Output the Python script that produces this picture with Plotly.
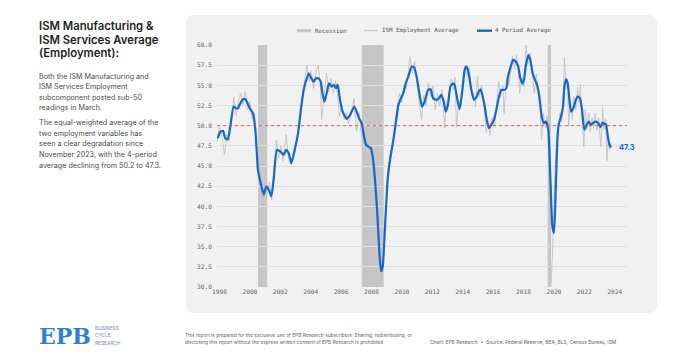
import plotly.graph_objects as go

# ------------------------------------------------------------------ data
avg_dates = [
    1998.29, 1998.47, 1998.64, 1998.79, 1998.95, 1999.12, 1999.34, 1999.50, 1999.63, 1999.78,
    1999.96, 2000.11, 2000.26, 2000.40, 2000.61, 2000.77, 2000.94, 2001.12, 2001.32, 2001.49,
    2001.65, 2001.82, 2001.97, 2002.19, 2002.41, 2002.63, 2002.79, 2002.96, 2003.14, 2003.36,
    2003.58, 2003.79, 2003.95, 2004.12, 2004.28, 2004.45, 2004.60, 2004.76, 2004.91, 2005.07,
    2005.18, 2005.31, 2005.46, 2005.61, 2005.79, 2005.94, 2006.08, 2006.19, 2006.34, 2006.51,
    2006.78, 2007.00, 2007.28, 2007.43, 2007.59, 2007.76, 2007.92, 2008.05, 2008.20, 2008.36,
    2008.49, 2008.64, 2008.79, 2008.93, 2009.04, 2009.15, 2009.30, 2009.47, 2009.63, 2009.85,
    2010.07, 2010.18, 2010.35, 2010.50, 2010.66, 2010.83, 2011.05, 2011.21, 2011.38, 2011.56,
    2011.73, 2011.91, 2012.13, 2012.30, 2012.46, 2012.68, 2012.85, 2013.00, 2013.16, 2013.29,
    2013.44, 2013.60, 2013.77, 2013.88, 2014.06, 2014.21, 2014.39, 2014.54, 2014.67, 2014.80,
    2014.98, 2015.15, 2015.31, 2015.46, 2015.59, 2015.75, 2015.86, 2016.01, 2016.14, 2016.29,
    2016.47, 2016.62, 2016.80, 2016.95, 2017.13, 2017.28, 2017.39, 2017.57, 2017.72, 2017.90,
    2018.05, 2018.20, 2018.33, 2018.45, 2018.57, 2018.73, 2018.86, 2019.01, 2019.17, 2019.30,
    2019.45, 2019.61, 2019.74, 2019.89, 2020.04, 2020.18, 2020.31, 2020.42, 2020.53, 2020.64,
    2020.72, 2020.88, 2021.01, 2021.10, 2021.21, 2021.32, 2021.43, 2021.54, 2021.69, 2021.82,
    2021.97, 2022.13, 2022.26, 2022.41, 2022.57, 2022.70, 2022.85, 2023.03, 2023.18, 2023.33,
    2023.47, 2023.62, 2023.75, 2023.83, 2023.92, 2024.00, 2024.08, 2024.17,
]
avg_values = [
    48.45, 49.27, 49.36, 48.45, 48.30, 49.90, 52.37, 52.16, 52.16, 52.78,
    53.28, 53.28, 52.78, 52.16, 51.54, 49.48, 44.53, 42.88, 41.44, 42.47,
    42.06, 41.23, 43.29, 47.00, 46.80, 46.39, 47.00, 46.60, 45.35, 47.00,
    49.07, 52.37, 54.43, 55.67, 56.50, 55.87, 55.46, 55.87, 55.87, 55.46,
    54.02, 52.99, 54.02, 55.26, 54.84, 55.05, 54.64, 55.05, 53.19, 51.75,
    50.84, 51.34, 52.37, 51.75, 50.92, 50.31, 48.65, 47.62, 47.42, 47.21,
    46.18, 43.29, 39.17, 34.22, 31.95, 32.57, 37.52, 43.29, 45.77, 48.24,
    51.13, 52.57, 53.40, 54.02, 55.26, 56.08, 57.32, 57.24, 56.08, 54.02,
    52.37, 52.99, 54.43, 54.51, 53.40, 53.19, 53.40, 53.81, 52.99, 51.75,
    52.57, 54.84, 55.26, 55.05, 53.19, 52.04, 54.43, 56.91, 57.32, 56.50,
    54.43, 53.19, 53.52, 54.22, 54.51, 53.40, 52.37, 50.51, 49.69, 50.10,
    50.72, 51.96, 53.61, 54.43, 54.43, 54.64, 56.08, 57.32, 58.14, 57.94,
    57.40, 55.90, 55.20, 55.80, 57.52, 58.76, 58.14, 56.50, 55.67, 55.05,
    53.61, 51.13, 50.31, 50.51, 49.48, 43.29, 37.52, 36.69, 42.06, 48.24,
    50.10, 51.13, 52.37, 54.84, 55.75, 55.26, 53.19, 51.75, 52.16, 52.99,
    53.61, 53.40, 51.96, 49.48, 50.10, 50.51, 50.10, 50.39, 50.51, 50.31,
    49.81, 50.39, 50.20, 50.20, 49.20, 48.20, 47.60, 47.30,
]

raw_dates = [
    1998.25, 1998.40, 1998.55, 1998.73, 1998.90, 1999.05, 1999.20, 1999.35, 1999.50, 1999.65,
    1999.80, 1999.95, 2000.10, 2000.25, 2000.40, 2000.55, 2000.70, 2000.85, 2001.00, 2001.12,
    2001.25, 2001.40, 2001.55, 2001.70, 2001.85, 2002.00, 2002.15, 2002.30, 2002.45, 2002.60,
    2002.80, 2002.95, 2003.10, 2003.25, 2003.40, 2003.55, 2003.70, 2003.85, 2004.00, 2004.15,
    2004.30, 2004.45, 2004.60, 2004.75, 2004.90, 2005.05, 2005.13, 2005.30, 2005.45, 2005.60,
    2005.75, 2005.90, 2006.05, 2006.20, 2006.30, 2006.45, 2006.60, 2006.75, 2006.90, 2007.10,
    2007.25, 2007.43, 2007.60, 2007.75, 2007.87, 2008.00, 2008.15, 2008.30, 2008.45, 2008.60,
    2008.75, 2008.90, 2009.00, 2009.10, 2009.20, 2009.35, 2009.50, 2009.65, 2009.80, 2009.95,
    2010.10, 2010.25, 2010.40, 2010.55, 2010.70, 2010.85, 2010.94, 2011.10, 2011.25, 2011.40,
    2011.55, 2011.70, 2011.85, 2012.00, 2012.15, 2012.30, 2012.45, 2012.60, 2012.75, 2012.90,
    2013.05, 2013.22, 2013.35, 2013.50, 2013.65, 2013.80, 2013.90, 2014.00, 2014.15, 2014.30,
    2014.45, 2014.54, 2014.70, 2014.85, 2015.00, 2015.15, 2015.25, 2015.37, 2015.50, 2015.65,
    2015.80, 2015.96, 2016.10, 2016.20, 2016.35, 2016.50, 2016.65, 2016.78, 2016.90, 2017.05,
    2017.13, 2017.30, 2017.45, 2017.60, 2017.68, 2017.82, 2017.95, 2018.08, 2018.16, 2018.30,
    2018.45, 2018.57, 2018.70, 2018.85, 2019.00, 2019.12, 2019.25, 2019.38, 2019.50, 2019.60,
    2019.72, 2019.85, 2019.95, 2020.08, 2020.20, 2020.33, 2020.45, 2020.58, 2020.70, 2020.80,
    2020.92, 2021.02, 2021.10, 2021.22, 2021.30, 2021.38, 2021.50, 2021.62, 2021.72, 2021.85,
    2021.97, 2022.08, 2022.15, 2022.25, 2022.38, 2022.47, 2022.58, 2022.70, 2022.80, 2022.92,
    2023.02, 2023.12, 2023.25, 2023.35, 2023.50, 2023.62, 2023.72, 2023.82, 2023.90, 2024.00,
    2024.06, 2024.17,
]
raw_values = [
    48.0, 49.8, 49.0, 46.4, 48.9, 48.0, 51.0, 53.5, 51.2, 53.0,
    54.0, 52.6, 54.2, 52.0, 53.0, 50.8, 51.5, 47.0, 44.0, 43.6,
    40.4, 42.8, 41.6, 43.0, 40.8, 44.5, 48.2, 46.0, 47.5, 45.6,
    48.9, 46.0, 45.2, 46.5, 47.8, 48.5, 51.5, 53.5, 55.5, 57.5,
    55.4, 56.8, 54.6, 56.6, 57.5, 54.8, 50.7, 53.8, 56.5, 54.2,
    55.8, 54.0, 55.6, 53.5, 51.1, 52.6, 50.8, 51.6, 50.2, 51.6,
    53.4, 49.3, 51.6, 49.0, 45.8, 48.4, 48.6, 46.2, 47.4, 44.5,
    40.0, 35.0, 30.5, 33.5, 34.8, 40.0, 44.5, 46.5, 47.8, 50.5,
    52.0, 54.0, 52.8, 55.0, 54.5, 57.0, 58.6, 56.5, 58.0, 55.0,
    53.0, 50.8, 53.8, 52.5, 55.3, 53.6, 54.9, 52.0, 54.0, 52.4,
    54.5, 49.7, 53.0, 53.5, 55.8, 54.4, 56.0, 49.8, 53.0, 52.5,
    55.5, 57.5, 56.2, 57.2, 53.8, 54.0, 52.3, 56.1, 53.6, 55.0,
    52.8, 49.1, 50.6, 48.8, 51.0, 49.8, 53.0, 55.5, 53.5, 55.0,
    51.5, 55.8, 55.0, 57.8, 58.6, 57.0, 58.8, 56.8, 54.0, 56.0,
    54.8, 60.0, 57.6, 59.0, 55.6, 54.0, 56.4, 54.2, 52.2, 48.2,
    51.5, 49.8, 51.2, 50.0, 29.7, 34.5, 43.0, 48.5, 49.5, 51.5,
    50.5, 53.0, 58.4, 54.5, 55.8, 49.9, 53.0, 50.8, 53.6, 52.0,
    54.8, 52.8, 55.1, 51.0, 47.4, 52.0, 49.5, 51.6, 49.2, 51.0,
    49.6, 51.5, 49.4, 51.0, 47.4, 52.2, 49.5, 50.8, 45.6, 48.6,
    47.0, 47.8,
]

recession_start = [2000.94, 2007.77, 2020.00]
recession_end = [2001.55, 2009.21, 2020.22]

tick_years = [1998, 2000, 2002, 2004, 2006, 2008, 2010, 2012, 2014, 2016, 2018, 2020, 2022, 2024]
y_tick_values = [30.0, 32.5, 35.0, 37.5, 40.0, 42.5, 45.0, 47.5, 50.0, 52.5, 55.0, 57.5, 60.0]
threshold = 50.0
last_label = "47.3"

legend_labels = ["Recession", "ISM Employment Average", "4 Period Average"]
title_lines = ["ISM Manufacturing &", "ISM Services Average", "(Employment):"]
para1_lines = ["Both the ISM Manufacturing and", "ISM Services Employment",
               "subcomponent posted sub-50", "readings in March."]
para2_lines = ["The equal-weighted average of the", "two employment variables has",
               "seen a clear degradation since", "November 2023, with the 4-period",
               "average declining from 50.2 to 47.3."]
disclaimer_lines = ["This report is prepared for the exclusive use of EPB Research subscribers. Sharing, redistributing, or",
                    "disclosing this report without the express written consent of EPB Research is prohibited"]
source_text = "Chart: EPB Research  \u2022  Source: Federal Reserve, BEA, BLS, Census Bureau, ISM"
logo_text = "EPB"
logo_sub = ["BUSINESS", "CYCLE", "RESEARCH"]

# ------------------------------------------------------------------ layout helpers
OFF = 8                                 # browser body margin
W, H = 680 - OFF, 362 - OFF
L, R, T, B = 217, 627, 45, 287          # plot box in screen pixels
PX_PER_YEAR = 15.2
TICK_OFFSET = 0.41
X_LABEL0 = 219.5


def px(x):
    return (x - L) / (R - L)


def py(y):
    return (B - y) / (B - T)


xmin = tick_years[0] + TICK_OFFSET + (L - X_LABEL0) / PX_PER_YEAR
xmax = tick_years[0] + TICK_OFFSET + (R - X_LABEL0) / PX_PER_YEAR

BLUE = "#1767c9"
GRAY_LINE = "#c2c2c2"
REC = "#c6c6c6"
CARD = "#f1f1f1"
MONO = "DejaVu Sans Mono"
SANS = "Inter"

fig = go.Figure()

fig.add_trace(go.Scatter(x=raw_dates, y=raw_values, mode="lines",
                         line=dict(color=GRAY_LINE, width=0.9),
                         name=legend_labels[1], showlegend=False, hoverinfo="skip"))
fig.add_trace(go.Scatter(x=avg_dates, y=avg_values, mode="lines",
                         line=dict(color=BLUE, width=2.2, shape="spline", smoothing=0.5),
                         name=legend_labels[2], showlegend=False))

shapes = []
x0, x1, y0, y1 = px(186), px(657), py(313), py(15)
rx, ry = 8 / (R - L), 8 / (B - T)
card_path = (f"M {x0+rx},{y1} L {x1-rx},{y1} Q {x1},{y1} {x1},{y1-ry} L {x1},{y0+ry} "
             f"Q {x1},{y0} {x1-rx},{y0} L {x0+rx},{y0} Q {x0},{y0} {x0},{y0+ry} "
             f"L {x0},{y1-ry} Q {x0},{y1} {x0+rx},{y1} Z")
shapes.append(dict(type="path", path=card_path, xref="paper", yref="paper",
                   fillcolor=CARD, line=dict(width=0), layer="below"))
for s, e in zip(recession_start, recession_end):
    shapes.append(dict(type="rect", xref="x", yref="paper", x0=s, x1=e, y0=0, y1=1,
                       fillcolor=REC, line=dict(width=0), layer="below"))
shapes.append(dict(type="line", xref="paper", yref="y", x0=0, x1=1, y0=threshold, y1=threshold,
                   line=dict(color="#d9534f", width=0.9, dash="dot"), layer="above"))
LEG_Y = 30.7
shapes.append(dict(type="rect", xref="paper", yref="paper", x0=px(297), x1=px(311),
                   y0=py(LEG_Y + 1.6), y1=py(LEG_Y - 1.6), fillcolor=REC, line=dict(width=0)))
shapes.append(dict(type="line", xref="paper", yref="paper", x0=px(364), x1=px(378),
                   y0=py(LEG_Y), y1=py(LEG_Y), line=dict(color=GRAY_LINE, width=1)))
shapes.append(dict(type="line", xref="paper", yref="paper", x0=px(477), x1=px(492),
                   y0=py(LEG_Y), y1=py(LEG_Y), line=dict(color=BLUE, width=2.4)))

ann = []


def text(t, x, y, size, color, family=SANS, weight=None, anchor="left"):
    f = dict(family=family, size=size, color=color)
    if weight:
        f["weight"] = weight
    ann.append(dict(text=t, x=px(x), y=py(y), xref="paper", yref="paper", showarrow=False,
                    xanchor=anchor, yanchor="middle", font=f))


for lab, lx in zip(legend_labels, [312.5, 380, 493]):
    text(lab, lx, LEG_Y, 5.8, "#555555", family=MONO)

for i, t in enumerate(title_lines):
    text(t, 37, 26 + i * 13.6, 11.3, "#1e1e1e", weight=600)
for i, t in enumerate(para1_lines):
    text(t, 37, 76 + i * 10.6, 7.2, "#4a4a4a")
for i, t in enumerate(para2_lines):
    text(t, 37, 122.7 + i * 10.6, 7.2, "#4a4a4a")

text("<b>" + logo_text + "</b>", 37, 336, 22, "#2f7fd6", family="DejaVu Serif")
for i, t in enumerate(logo_sub):
    text(t, 93, 328 + i * 7.3, 4.8, "#6d8fbf")
for i, t in enumerate(disclaimer_lines):
    text(t, 183, 335 + i * 7, 4.8, "#666666")
text(source_text, 428, 342, 4.9, "#666666")

ann.append(dict(text="<b>" + last_label + "</b>", x=avg_dates[-1], y=avg_values[-1],
                xref="x", yref="y", showarrow=False, xanchor="left", yanchor="middle",
                xshift=6, font=dict(family=SANS, size=7.5, color=BLUE)))

fig.update_layout(
    width=W, height=H,
    margin=dict(l=L - OFF, r=W - (R - OFF), t=T - OFF, b=H - (B - OFF), pad=0),
    paper_bgcolor="white", plot_bgcolor=CARD,
    shapes=shapes, annotations=ann, showlegend=False,
    xaxis=dict(range=[xmin, xmax], tickvals=[y + TICK_OFFSET for y in tick_years],
               ticktext=[str(y) for y in tick_years], showgrid=False, zeroline=False,
               showline=False, ticks="", tickfont=dict(family=MONO, size=6.2, color="#666666")),
    yaxis=dict(range=[30, 60], tickvals=y_tick_values,
               ticktext=[f"{v:.1f}" for v in y_tick_values],
               showgrid=True, gridcolor="#dedede", gridwidth=0.8, zeroline=False,
               showline=False, ticks="", ticklabelstandoff=4,
               tickfont=dict(family=MONO, size=6.2, color="#666666")),
)

fig.write_html("out.html")
